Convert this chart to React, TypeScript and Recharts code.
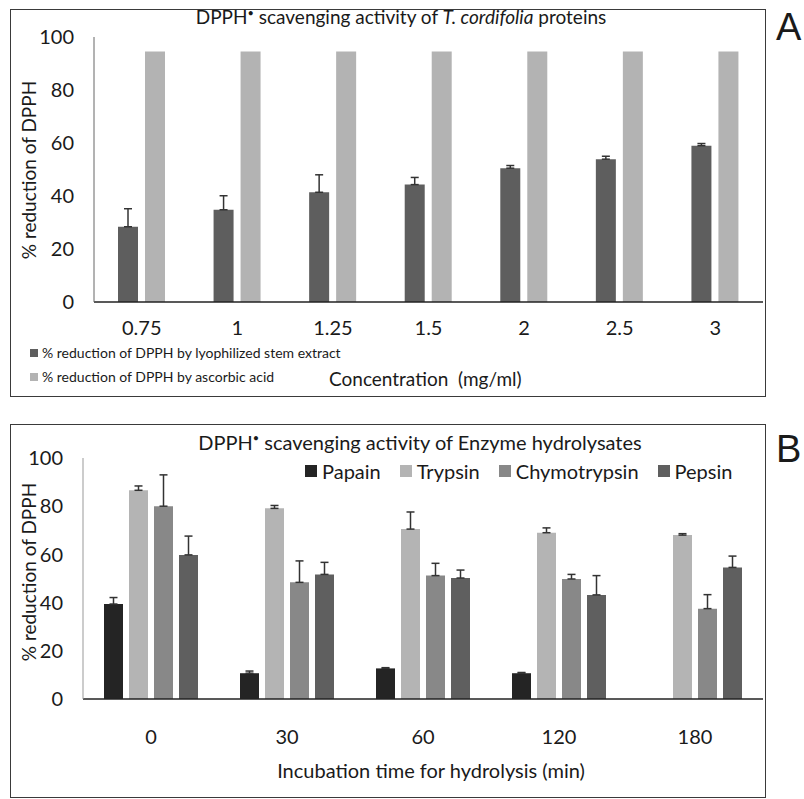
import React from "react";
import { BarChart, Bar, XAxis, YAxis, ErrorBar } from "recharts";

// Panel A
const concentrations = ["0.75", "1", "1.25", "1.5", "2", "2.5", "3"];
const stemExtract = [28.4, 34.8, 41.4, 44.3, 50.5, 53.9, 59.0];
const stemExtractErr = [6.8, 5.3, 6.6, 2.7, 1.0, 1.1, 0.8];
const ascorbicAcid = [94.5, 94.5, 94.5, 94.5, 94.5, 94.5, 94.5];

// Panel B
const times = ["0", "30", "60", "120", "180"];
const papain = [39.4, 10.7, 12.7, 10.7, null];
const papainErr = [2.7, 0.9, 0.3, 0.3, 0];
const trypsin = [86.6, 79.1, 70.5, 69.0, 68.0];
const trypsinErr = [1.8, 1.2, 7.1, 2.0, 0.6];
const chymotrypsin = [80.0, 48.4, 51.2, 49.8, 37.5];
const chymotrypsinErr = [13.0, 8.9, 5.1, 1.9, 5.8];
const pepsin = [59.8, 51.7, 50.2, 43.2, 54.6];
const pepsinErr = [7.8, 5.0, 3.3, 8.0, 4.7];

const yTicks = [0, 20, 40, 60, 80, 100];

const FONT = "Lato, 'Open Sans', sans-serif";
const INK = "#1a1a1a";

const dataA = concentrations.map((c, i) => ({
  conc: c,
  stem: stemExtract[i],
  stemErr: [0, stemExtractErr[i]],
  asc: ascorbicAcid[i],
}));

const dataB = times.map((t, i) => ({
  time: t,
  papain: papain[i],
  papainErr: [0, papainErr[i]],
  trypsin: trypsin[i],
  trypsinErr: [0, trypsinErr[i]],
  chymo: chymotrypsin[i],
  chymoErr: [0, chymotrypsinErr[i]],
  pepsin: pepsin[i],
  pepsinErr: [0, pepsinErr[i]],
}));

const seriesB = [
  { key: "papain", err: "papainErr", name: "Papain", color: "#242424" },
  { key: "trypsin", err: "trypsinErr", name: "Trypsin", color: "#b4b4b4" },
  { key: "chymo", err: "chymoErr", name: "Chymotrypsin", color: "#888888" },
  { key: "pepsin", err: "pepsinErr", name: "Pepsin", color: "#5f5f5f" },
];

const tickStyle = { fill: INK, fontSize: 20, fontFamily: FONT };

const frame = (top: number, height: number): React.CSSProperties => ({
  position: "absolute",
  left: 10,
  top,
  width: 756,
  height,
  border: "1.5px solid #3a3a3a",
  boxSizing: "border-box",
});

const yLabel = (top: number): React.CSSProperties => ({
  position: "absolute",
  left: 28,
  top,
  transform: "translate(-50%, -50%) rotate(-90deg)",
  whiteSpace: "nowrap",
  fontFamily: FONT,
  fontSize: 19,
  color: INK,
});

export default function App() {
  return (
    <div style={{ position: "absolute", left: 0, top: 0, width: 804, height: 799, background: "#fff", fontFamily: FONT }}>
      {/* Panel A */}
      <div style={frame(9, 388)} />
      <div style={{ position: "absolute", left: 776, top: 6, fontFamily: "Arial, 'Liberation Sans', sans-serif", fontSize: 38, color: INK }}>A</div>
      <div style={{ position: "absolute", left: 401, top: 5, transform: "translateX(-50%)", whiteSpace: "nowrap", fontSize: 19, color: INK }}>
        DPPH<sup style={{ fontSize: 11 }}>•</sup> scavenging activity of <i>T. cordifolia</i> proteins
      </div>
      <div style={{ position: "absolute", left: 0, top: 0 }}>
        <BarChart width={804} height={400} data={dataA} margin={{ top: 37, right: 41, bottom: 58, left: 0 }} barGap={7}>
          <XAxis dataKey="conc" tick={tickStyle} tickLine={false} tickSize={0} tickMargin={19} height={40} axisLine={{ stroke: "#222", strokeWidth: 1.5 }} />
          <YAxis domain={[0, 100]} ticks={yTicks} width={94} tick={tickStyle} tickLine={false} tickSize={0} tickMargin={20} axisLine={{ stroke: "#666", strokeWidth: 1 }} />
          <Bar dataKey="stem" fill="#5e5e5e" barSize={20} isAnimationActive={false}>
            <ErrorBar dataKey="stemErr" width={4} stroke="#333" strokeWidth={1.5} direction="y" />
          </Bar>
          <Bar dataKey="asc" fill="#b3b3b3" barSize={20} isAnimationActive={false} />
        </BarChart>
      </div>
      <div style={yLabel(170)}>% reduction of DPPH</div>
      <div style={{ position: "absolute", left: 30, top: 341, fontSize: 14, color: INK, lineHeight: "24px" }}>
        <div style={{ display: "flex", alignItems: "center" }}>
          <span style={{ width: 8, height: 8, background: "#5e5e5e", marginRight: 4 }} />% reduction of DPPH by lyophilized stem extract
        </div>
        <div style={{ display: "flex", alignItems: "center" }}>
          <span style={{ width: 8, height: 8, background: "#b3b3b3", marginRight: 4 }} />% reduction of DPPH by ascorbic acid
        </div>
      </div>
      <div style={{ position: "absolute", left: 329, top: 367, fontSize: 19, color: INK, whiteSpace: "pre" }}>Concentration  (mg/ml)</div>

      {/* Panel B */}
      <div style={frame(424, 374)} />
      <div style={{ position: "absolute", left: 776, top: 428, fontFamily: "Arial, 'Liberation Sans', sans-serif", fontSize: 38, color: INK }}>B</div>
      <div style={{ position: "absolute", left: 420, top: 430, transform: "translateX(-50%)", whiteSpace: "nowrap", fontSize: 20, color: INK }}>
        DPPH<sup style={{ fontSize: 11 }}>•</sup> scavenging activity of Enzyme hydrolysates
      </div>
      <div style={{ position: "absolute", left: 305, top: 459, display: "flex", gap: 19, fontSize: 20, color: INK }}>
        {seriesB.map((s) => (
          <div key={s.key} style={{ display: "flex", alignItems: "center" }}>
            <span style={{ width: 12, height: 12, background: s.color, marginRight: 5 }} />
            {s.name}
          </div>
        ))}
      </div>
      <div style={{ position: "absolute", left: 0, top: 400 }}>
        <BarChart width={804} height={399} data={dataB} margin={{ top: 58, right: 41, bottom: 60, left: 0 }} barGap={6}>
          <XAxis dataKey="time" tick={tickStyle} tickLine={false} tickSize={0} tickMargin={31} height={40} axisLine={{ stroke: "#222", strokeWidth: 1.5 }} />
          <YAxis domain={[0, 100]} ticks={yTicks} width={83} tick={tickStyle} tickLine={false} tickSize={0} tickMargin={20} axisLine={{ stroke: "#999", strokeWidth: 1 }} />
          {seriesB.map((s) => (
            <Bar key={s.key} dataKey={s.key} fill={s.color} barSize={19} isAnimationActive={false}>
              <ErrorBar dataKey={s.err} width={4} stroke="#333" strokeWidth={1.5} direction="y" />
            </Bar>
          ))}
        </BarChart>
      </div>
      <div style={yLabel(572)}>% reduction of DPPH</div>
      <div style={{ position: "absolute", left: 431, top: 758, transform: "translateX(-50%)", whiteSpace: "nowrap", fontSize: 20, color: INK }}>
        Incubation time for hydrolysis (min)
      </div>
    </div>
  );
}
